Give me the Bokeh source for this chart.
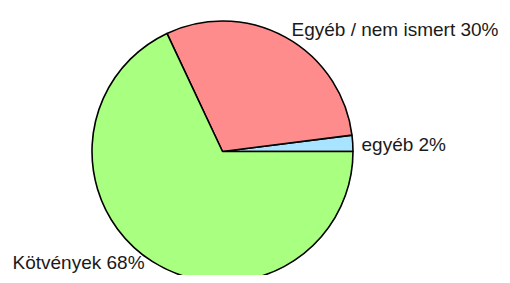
import math
from bokeh.plotting import figure
from bokeh.models import ColumnDataSource, Range1d
from bokeh.core.properties import value
from bokeh.embed import file_html
from bokeh.resources import INLINE

categories = ["egyéb", "Egyéb / nem ismert", "Kötvények"]
shares = [2, 30, 68]
colors = ["#A8E4FF", "#FF8C8C", "#A8FF80"]

total = sum(shares)
starts, ends = [], []
acc = 0.0
for s in shares:
    starts.append(2 * math.pi * acc / total)
    acc += s
    ends.append(2 * math.pi * acc / total)

W, H = 502, 275
cx, cy, r = 222, H - 151, 130.5

src = ColumnDataSource(dict(start=starts, end=ends, color=colors))

p = figure(width=W, height=H, output_backend="svg", toolbar_location=None,
           x_range=Range1d(0, W), y_range=Range1d(0, H), min_border=0)
p.axis.visible = False
p.grid.visible = False
p.outline_line_color = None
p.background_fill_color = "white"
p.border_fill_color = "white"

p.wedge(x=cx, y=cy, radius=r, start_angle="start", end_angle="end",
        fill_color="color", line_color="black", line_width=1.6, source=src)

label_texts = [f"{c} {s}%" for c, s in zip(categories, shares)]
lsrc = ColumnDataSource(dict(
    x=[361, 291, 12],
    y=[H - 143.5, H - 29, 3],
    text=label_texts,
    baseline=["alphabetic", "alphabetic", "bottom"],
))
p.text(x="x", y="y", text="text", text_baseline="baseline", source=lsrc,
       text_font=value("Liberation Sans"), text_font_size="19px",
       text_color="#1a1a1a", text_align="left")

open("out.html", "w").write(file_html(p, INLINE))
